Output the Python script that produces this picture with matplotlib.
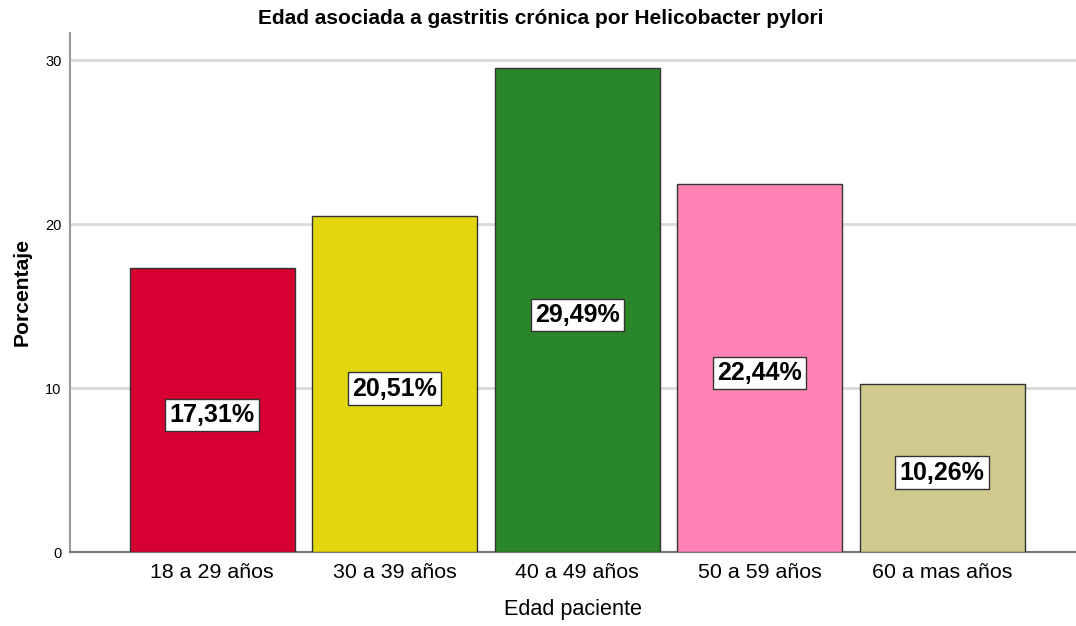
import matplotlib.pyplot as plt

plt.rcParams['font.family'] = ['Liberation Sans', 'DejaVu Sans']

categories = ['18 a 29 años', '30 a 39 años', '40 a 49 años', '50 a 59 años', '60 a mas años']
percentages = [17.31, 20.51, 29.49, 22.44, 10.26]
bar_colors = ['#d70032', '#e2d70e', '#2a8729', '#ff84b5', '#d0c98e']
yticks = [0, 10, 20, 30]

fig = plt.figure(figsize=(10.76, 6.26), dpi=100)
ax = fig.add_axes([70 / 1076, 74 / 626, 1006 / 1076, 519 / 626])

x = range(len(categories))
ax.bar(x, percentages, width=0.904, color=bar_colors, edgecolor='#333333',
       linewidth=1, zorder=3)

# value labels in the middle of each bar
for xi, val in zip(x, percentages):
    ax.annotate(f"{val:.2f}%".replace('.', ','), xy=(xi, val / 2),
                xytext=(0, -3.5), textcoords='offset points',
                ha='center', va='center', fontsize=18, fontweight='bold', zorder=4,
                bbox=dict(boxstyle='square,pad=0.17', facecolor='white',
                          edgecolor='#333333', linewidth=1))

ax.set_xlim(-0.78, 4.734)
ax.set_ylim(0, 31.65)
ax.set_yticks(yticks)
ax.set_xticks(list(x))
ax.set_xticklabels(categories, fontsize=15.4)
ax.tick_params(axis='x', length=0, pad=8)
ax.tick_params(axis='y', length=0, labelsize=10.5, pad=6)

ax.grid(axis='y', color='#d9d9d9', linewidth=2, zorder=0)
for s in ['top', 'right']:
    ax.spines[s].set_visible(False)
ax.spines['left'].set_color('#999999')
ax.spines['left'].set_linewidth(1.5)
ax.spines['bottom'].set_color('#777777')
ax.spines['bottom'].set_linewidth(1.5)

ax.set_ylabel('Porcentaje', fontsize=15.2, fontweight='bold', labelpad=10)
ax.set_xlabel('Edad paciente', fontsize=15.6, labelpad=12)
fig.text(541 / 1076, 1 - 18 / 626, 'Edad asociada a gastritis crónica por Helicobacter pylori',
         ha='center', va='center', fontsize=15, fontweight='bold')

fig.savefig('out.png', dpi=100)
